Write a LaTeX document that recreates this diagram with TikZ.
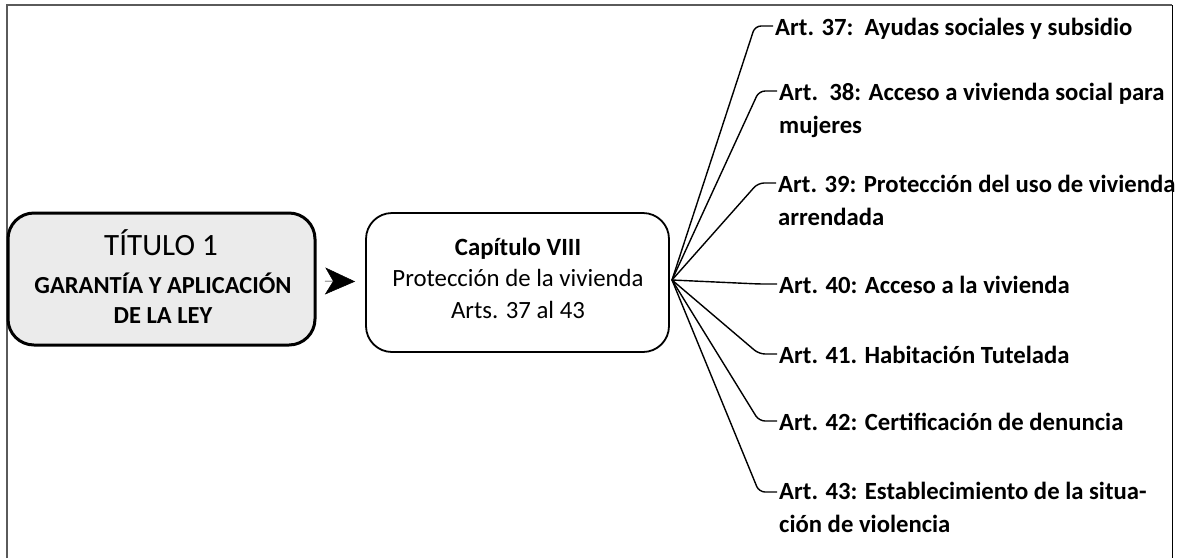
\documentclass[tikz,border=0pt]{standalone}
\usepackage{fontspec}
\setmainfont{Carlito}
\usetikzlibrary{arrows.meta,calc}
\definecolor{boxgray}{HTML}{EBEBEB}
\definecolor{framegray}{HTML}{5A5A5A}
\begin{document}
\begin{tikzpicture}[x=1pt,y=-1pt,
  conn/.style={line width=1.4pt, rounded corners=6pt},
  lab/.style={font=\fontsize{24.7pt}{33pt}\selectfont\bfseries, anchor=base west, inner sep=0pt, align=left},
  titbox/.style={draw, line width=3pt, fill=boxgray, rounded corners=26pt, minimum width=307pt, minimum height=132pt, inner sep=0pt},
  capbox/.style={draw, line width=1.8pt, fill=white, rounded corners=26pt, minimum width=303pt, minimum height=139pt, inner sep=0pt},
  headtip/.style={-{Stealth[length=30pt,width=27pt,inset=8pt]}, line width=0.5pt}
]
\useasboundingbox (0,0) rectangle (1179,558);
% frame
\draw[framegray, line width=1.5pt] (7,558) -- (7,5) -- (1172,5);
\draw[black, line width=0.9pt] (1172,5) -- (1172,558);

% boxes
\node[titbox] (tit) at (161.5,279) {};
\node[font=\fontsize{31pt}{36pt}\selectfont, anchor=base, inner sep=0pt] (t1) at (161,255) {TÍTULO 1};
\node[font=\fontsize{24.5pt}{30pt}\selectfont\bfseries, anchor=base, align=center, inner sep=0pt] (t2) at (163,323) {GARANTÍA Y APLICACIÓN\\DE LA LEY};

\node[capbox] (cap) at (517.5,282.5) {};
\node[font=\fontsize{24.8pt}{31.5pt}\selectfont, anchor=base, align=center, inner sep=0pt] (capt) at (518,318) {\textbf{Capítulo VIII}\\Protección de la vivienda\\Arts. 37 al 43};

% arrow head between boxes
\draw[headtip] ($(tit.east)+(8.5,2)$) -- ($(cap.west)+(-10,-1)$);

% hub
\coordinate (hub) at (672,280);

% labels (base = baseline of the last line)
\node[lab] (l37) at (775,35) {Art. 37:\ \ Ayudas sociales y subsidio};
\node[lab] (l38) at (779,133) {Art.\ \ 38: Acceso a vivienda social para\\mujeres};
\node[lab] (l39) at (778,225) {Art. 39: Protección del uso de vivienda\\arrendada};
\node[lab] (l40) at (779,293) {Art. 40: Acceso a la vivienda};
\node[lab] (l41) at (779,363) {Art. 41. Habitación Tutelada};
\node[lab] (l42) at (779,430) {Art. 42: Certificación de denuncia};
\node[lab] (l43) at (779,532) {Art. 43: Establecimiento de la situa-\\ción de violencia};

\foreach \n/\d in {37/9,38/42,39/42,40/9,41/9,42/9,43/40}
  \draw[conn] (hub) -- ($(l\n.base west)+(-20,-\d)$) -- ($(l\n.base west)+(-2,-\d)$);
\end{tikzpicture}
\end{document}
